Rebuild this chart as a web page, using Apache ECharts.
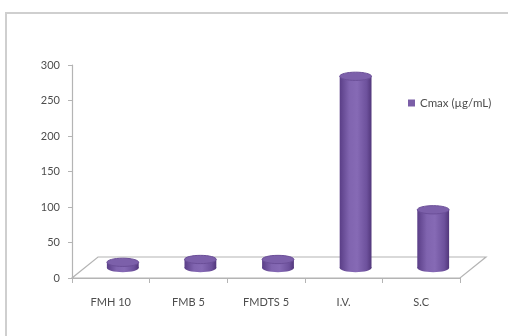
<!DOCTYPE html>
<html>
<head>
<meta charset="utf-8">
<script src="https://cdn.jsdelivr.net/npm/echarts@6/dist/echarts.min.js"></script>
<style>
  html, body { margin: 0; padding: 0; background: #ffffff; }
  #chart { width: 508px; height: 336px; }
</style>
</head>
<body>
<div id="chart"></div>
<script>
// Formulations and their peak plasma concentration
const categories = ['FMH 10', 'FMB 5', 'FMDTS 5', 'I.V.', 'S.C'];
const cmaxValues = [8, 12, 12, 270, 82];
const yTicks = [0, 50, 100, 150, 200, 250, 300];
const seriesName = 'Cmax (\u00b5g/mL)';

// depth of the 3D floor, and where the cylinders sit inside it
const DEPTH_DX = 26, DEPTH_DY = -21;
const MID_DX = 12, MID_DY = -10;

const chart = echarts.init(document.getElementById('chart'));

function renderFloor(params, api) {
  const cs = params.coordSys;
  const x0 = cs.x, x1 = cs.x + cs.width, y = cs.y + cs.height;
  return {
    type: 'polygon',
    silent: true,
    shape: { points: [[x0, y], [x1, y], [x1 + DEPTH_DX, y + DEPTH_DY], [x0 + DEPTH_DX, y + DEPTH_DY]] },
    style: { fill: '#ffffff', stroke: '#b4b4b4', lineWidth: 1.2 }
  };
}

function renderCylinder(params, api) {
  const idx = api.value(0);
  const top = api.coord([idx, api.value(1)]);
  const base = api.coord([idx, 0]);
  const w = api.size([1, 0])[0] * 0.41;
  const rx = w / 2, ry = w * 0.13;
  const cx = top[0] + MID_DX;
  const ty = top[1] + MID_DY;
  const by = base[1] + MID_DY;
  const bodyFill = new echarts.graphic.LinearGradient(0, 0, 1, 0, [
    { offset: 0, color: '#5a3e87' },
    { offset: 0.3, color: '#8064af' },
    { offset: 0.55, color: '#866ab5' },
    { offset: 0.85, color: '#6d519c' },
    { offset: 1, color: '#52377b' }
  ]);
  return {
    type: 'group',
    children: [
      { type: 'ellipse', shape: { cx: cx, cy: by, rx: rx, ry: ry }, style: { fill: bodyFill } },
      { type: 'rect', shape: { x: cx - rx, y: ty, width: w, height: Math.max(by - ty, 0) }, style: { fill: bodyFill } },
      { type: 'ellipse', shape: { cx: cx, cy: ty, rx: rx, ry: ry }, style: { fill: '#7c60aa', stroke: '#6b4f98', lineWidth: 1 } }
    ]
  };
}

const labelStyle = { fontFamily: 'Lato', fontSize: 11, color: '#4d4d4d' };

chart.setOption({
  animation: false,
  backgroundColor: '#ffffff',
  textStyle: labelStyle,
  graphic: [{
    type: 'rect',
    silent: true,
    z: -10,
    shape: { x: 6, y: 13, width: 540, height: 360 },
    style: { fill: 'none', stroke: '#cfcfcf', lineWidth: 2 }
  }],
  legend: {
    data: [seriesName],
    left: 403,
    top: 92,
    icon: 'rect',
    itemWidth: 7,
    itemHeight: 7,
    itemGap: 5,
    textStyle: { fontFamily: 'Lato', fontSize: 11.5, color: '#4d4d4d' }
  },
  grid: { left: 72, right: 48, top: 65, bottom: 58 },
  xAxis: {
    type: 'category',
    data: categories,
    axisLine: { lineStyle: { color: '#b4b4b4', width: 1.2 } },
    axisTick: { show: true, length: 5, lineStyle: { color: '#b4b4b4' } },
    axisLabel: Object.assign({ margin: 19 }, labelStyle)
  },
  yAxis: {
    type: 'value',
    min: yTicks[0],
    max: yTicks[yTicks.length - 1],
    interval: yTicks[1] - yTicks[0],
    axisLine: { show: true, lineStyle: { color: '#b4b4b4', width: 1.2 } },
    axisTick: { show: true, inside: false, length: 4, lineStyle: { color: '#b4b4b4' } },
    splitLine: { show: false },
    axisLabel: Object.assign({ margin: 12 }, labelStyle)
  },
  series: [
    {
      type: 'custom',
      name: 'floor',
      silent: true,
      z: 1,
      renderItem: renderFloor,
      data: [[0, 0]]
    },
    {
      type: 'custom',
      name: seriesName,
      z: 3,
      itemStyle: { color: '#7b5ea7' },
      renderItem: renderCylinder,
      encode: { x: 0, y: 1 },
      data: categories.map((c, i) => [i, cmaxValues[i]])
    }
  ]
});
</script>
</body>
</html>
